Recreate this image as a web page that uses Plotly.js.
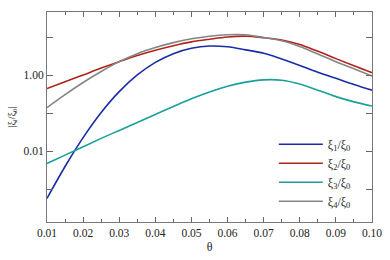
<!DOCTYPE html>
<html>
<head>
<meta charset="utf-8">
<script src="https://cdn.plot.ly/plotly-3.0.1.min.js"></script>
<style>html,body{margin:0;padding:0;background:#fff;}#chart{width:390px;height:260px;}</style>
</head>
<body>
<div id="chart"></div>
<script>
var theta = [0.010,0.015,0.020,0.025,0.030,0.035,0.040,0.045,0.050,0.055,0.060,0.065,0.070,0.075,0.080,0.085,0.090,0.095,0.100];
var xi1 = [0.000575,0.00398,0.0229,0.105,0.372,1.02,2.19,3.72,5.13,5.89,5.62,4.68,3.80,2.69,1.82,1.20,0.832,0.575,0.407];
var xi2 = [0.447,0.676,1.02,1.55,2.29,3.31,4.57,6.03,7.59,8.91,10.2,10.7,9.77,8.51,6.46,4.27,2.75,1.78,1.17];
var xi3 = [0.00479,0.00794,0.0132,0.0219,0.0355,0.0575,0.0933,0.151,0.240,0.363,0.513,0.661,0.759,0.741,0.589,0.407,0.275,0.200,0.155];
var xi4 = [0.141,0.309,0.646,1.26,2.29,3.72,5.37,7.24,9.12,10.7,11.7,11.7,9.89,8.13,5.75,3.63,2.29,1.48,0.955];
var seriesNames = ['ξ<sub>1</sub>/ξ<sub>0</sub>','ξ<sub>2</sub>/ξ<sub>0</sub>','ξ<sub>3</sub>/ξ<sub>0</sub>','ξ<sub>4</sub>/ξ<sub>0</sub>'];
var seriesColors = ['#1a2ca6','#b0231a','#1aa09c','#858585'];
var yTickVals = [0.001,0.01,0.1,1,10];
var yTickText = ['','0.01','','1.00',''];
var xTickVals = [0.01,0.02,0.03,0.04,0.05,0.06,0.07,0.08,0.09,0.10];
var xTickText = ['0.01','0.02','0.03','0.04','0.05','0.06','0.07','0.08','0.09','0.10'];

var ys = [xi1, xi2, xi3, xi4];
var traces = ys.map(function(y, i){
  return {x: theta, y: y, type:'scatter', mode:'lines', name: seriesNames[i],
    line:{color: seriesColors[i], width:1.6, shape:'spline', smoothing:1}};
});
var fam = 'Liberation Serif';
var font = {family:fam, color:'#222', size:11.5};
var layout = {
  width:390, height:260,
  margin:{l:47, r:18, t:12, b:38},
  paper_bgcolor:'#fff', plot_bgcolor:'#fff',
  font: font,
  showlegend:true,
  legend:{x:0.698, xanchor:'left', y:0.03, yanchor:'bottom', bgcolor:'rgba(0,0,0,0)',
    font:{family:fam, size:12, color:'#222'}, itemwidth:44, tracegroupgap:0},
  xaxis:{range:[0.01,0.10], tickvals:xTickVals, ticktext:xTickText, ticks:'inside', ticklen:5,
    tickcolor:'#666', linecolor:'#777', linewidth:1, showline:true, mirror:'ticks', showgrid:false, zeroline:false,
    minor:{dtick:0.005, ticks:'inside', ticklen:3, tickcolor:'#666', showgrid:false},
    title:{text:'θ', font:{family:fam, size:12, color:'#222'}, standoff:4}},
  yaxis:{type:'log', range:[-3.86,1.666], tickvals:yTickVals, ticktext:yTickText, ticks:'inside', ticklen:6,
    tickcolor:'#666', linecolor:'#777', linewidth:1, showline:true, mirror:'ticks', showgrid:false, zeroline:false,
    title:{text:'|ξ<sub>i</sub>/ξ<sub>0</sub>|', font:{family:fam, size:10, color:'#222'}, standoff:6}}
};
Plotly.newPlot('chart', traces, layout, {staticPlot:true, displayModeBar:false});
</script>
</body>
</html>
